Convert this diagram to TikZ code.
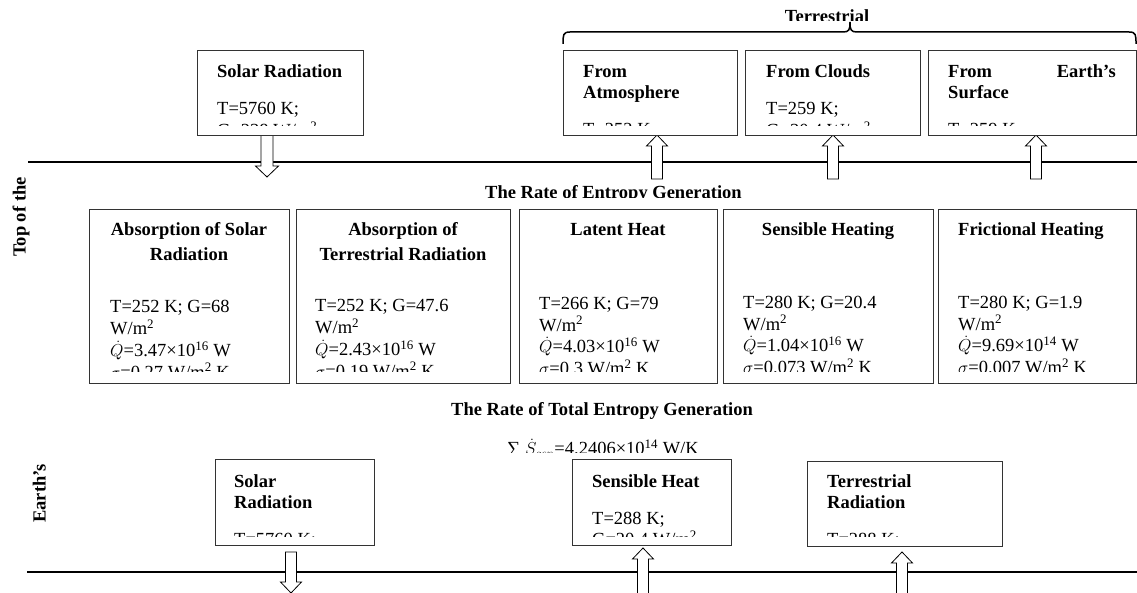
\documentclass[tikz,border=0pt]{standalone}
\usepackage{fontspec}
\setmainfont{Liberation Serif}
\newcommand\fsz{\fontsize{18.5}{21}\selectfont}
\tikzset{
 bx/.style={draw=black!80, line width=0.9pt, fill=white, inner sep=0pt, outer sep=0pt, anchor=north west},
 ttl/.style={font=\fsz\bfseries, inner sep=0pt, anchor=base west},
 ttlc/.style={font=\fsz\bfseries, inner sep=0pt, anchor=base},
 txt/.style={font=\fsz, inner sep=0pt, anchor=base west},
 blk/.style={draw=black, line width=0.8pt, fill=white, line join=miter},
 hline/.style={line width=2pt},
 brc/.style={line width=1.5pt},
}
\newcommand\mkbox[5]{\node[bx, minimum width={(#4-#2)*1pt}, minimum height={(#5-#3)*1pt}] (#1) at (#2,#3) {};}
\newcommand\dnarr[5]{\draw[blk] (#1-#4,#2) -- (#1+#4,#2) -- (#1+#4,#3-11) -- (#1+#5,#3-11) -- (#1,#3) -- (#1-#5,#3-11) -- (#1-#4,#3-11) -- cycle;}
\newcommand\uparr[5]{\draw[blk] (#1-#4,#3) -- (#1-#4,#2+11) -- (#1-#5,#2+11) -- (#1,#2) -- (#1+#5,#2+11) -- (#1+#4,#2+11) -- (#1+#4,#3) -- cycle;}
\begin{document}
\begin{tikzpicture}[x=1pt,y=-1pt]
\useasboundingbox (0,0) rectangle (1137,593);
\clip (0,0) rectangle (1137,593);
% horizontal lines
\coordinate (tl) at (28,162); \coordinate (tr) at (1137,162);
\coordinate (bl) at (27,572); \coordinate (br) at (1137,572);
\draw[hline] (tl) -- (tr);
\draw[hline] (bl) -- (br);
% block arrows
\dnarr{267}{135}{177}{6}{11.5}
\uparr{657}{135}{179}{5.5}{10.5}
\uparr{833}{135}{179}{5.5}{10.5}
\uparr{1036}{135}{179}{5.5}{10.5}
\dnarr{291}{552}{593}{5.5}{10.5}
\uparr{643}{548}{600}{5.5}{10.5}
\uparr{902}{552}{600}{5.5}{10.5}
% ---------- top row ----------
\mkbox{solar}{197}{50}{363}{135}
\begin{scope}\clip (197,50) rectangle (363,126);
\node[ttl] (solarA) at (217,78) {Solar Radiation};
\node[txt] (solarB) at (217,115) {T=5760 K;};
\node[txt] (solarC) at (217,136.5) {G=238 W/m\textsuperscript{2}};
\end{scope}
\mkbox{atm}{563}{50}{737}{135}
\begin{scope}\clip (563,50) rectangle (737,126);
\node[ttl] (atmA) at (583,78) {From};
\node[ttl] (atmB) at (583,99) {Atmosphere};
\node[txt] (atmC) at (583,136) {T=252 K;};
\end{scope}
\mkbox{cld}{745}{50}{920}{135}
\begin{scope}\clip (745,50) rectangle (920,126);
\node[ttl] (cldA) at (766,78) {From Clouds};
\node[txt] (cldB) at (766,115) {T=259 K;};
\node[txt] (cldC) at (766,136.5) {G=30.4 W/m\textsuperscript{2}};
\end{scope}
\mkbox{srf}{928}{50}{1136}{135}
\begin{scope}\clip (928,50) rectangle (1136,126);
\node[ttl] (srfA) at (948,78) {From};
\node[ttl, anchor=base east] (srfB) at (1116,78) {Earth’s};
\node[ttl] (srfC) at (948,99) {Surface};
\node[txt] (srfD) at (948,136) {T=259 K;};
\end{scope}
% brace and its title
\draw[brc] (563,44) .. controls (563,35) and (563,32) .. (570,32) -- (843,32) .. controls (849,32) and (850,30) .. (850,22);
\draw[brc] (850,22) .. controls (850,30) and (851,32) .. (857,32) -- (1129,32) .. controls (1136,32) and (1136,35) .. (1136,44);
\begin{scope}\clip (700,0) rectangle (960,20.5);
\node[ttlc] (terrT) at (827,22.5) {Terrestrial};
\end{scope}
% rotated side labels
\node[ttl, rotate=90] (toplbl) at (25.5,257) {Top of the};
\node[ttl, rotate=90] (earthlbl) at (45.5,523) {Earth’s};
% middle heading
\begin{scope}\clip (400,150) rectangle (800,197.5);
\node[ttl] (rate1) at (485,198.5) {The Rate of Entropy Generation};
\end{scope}
% ---------- middle row ----------
\mkbox{m1}{89}{209}{289}{383}
\begin{scope}\clip (89,209) rectangle (289,371);
\node[ttlc] (m1a) at (189,236) {Absorption of Solar};
\node[ttlc] (m1b) at (189,261) {Radiation};
\node[txt] (m1c) at (110,313) {T=252 K; G=68};
\node[txt] (m1d) at (110,334.7) {W/m\textsuperscript{2}};
\node[txt] (m1e) at (110,356.4) {$\dot{Q}$=3.47×10\textsuperscript{16} W};
\node[txt] (m1f) at (110,378.1) {$\sigma$=0.27 W/m\textsuperscript{2} K};
\end{scope}
\mkbox{m2}{296}{209}{510}{383}
\begin{scope}\clip (296,209) rectangle (510,371);
\node[ttlc] (m2a) at (403,236) {Absorption of};
\node[ttlc] (m2b) at (403,261) {Terrestrial Radiation};
\node[txt] (m2c) at (315,312) {T=252 K; G=47.6};
\node[txt] (m2d) at (315,333.7) {W/m\textsuperscript{2}};
\node[txt] (m2e) at (315,355.4) {$\dot{Q}$=2.43×10\textsuperscript{16} W};
\node[txt] (m2f) at (315,377.1) {$\sigma$=0.19 W/m\textsuperscript{2} K};
\end{scope}
\mkbox{m3}{519}{209}{717}{383}
\begin{scope}\clip (519,209) rectangle (717,371);
\node[ttlc] (m3a) at (618,236) {Latent Heat};
\node[txt] (m3c) at (539,309.5) {T=266 K; G=79};
\node[txt] (m3d) at (539,331.2) {W/m\textsuperscript{2}};
\node[txt] (m3e) at (539,352.9) {$\dot{Q}$=4.03×10\textsuperscript{16} W};
\node[txt] (m3f) at (539,374.6) {$\sigma$=0.3 W/m\textsuperscript{2} K};
\end{scope}
\mkbox{m4}{723}{209}{933}{383}
\begin{scope}\clip (723,209) rectangle (933,371);
\node[ttlc] (m4a) at (828,236) {Sensible Heating};
\node[txt] (m4c) at (743,308.5) {T=280 K; G=20.4};
\node[txt] (m4d) at (743,330.2) {W/m\textsuperscript{2}};
\node[txt] (m4e) at (743,351.9) {$\dot{Q}$=1.04×10\textsuperscript{16} W};
\node[txt] (m4f) at (743,373.6) {$\sigma$=0.073 W/m\textsuperscript{2} K};
\end{scope}
\mkbox{m5}{938}{209}{1136}{383}
\begin{scope}\clip (938,209) rectangle (1136,371);
\node[ttl] (m5a) at (958,236) {Frictional Heating};
\node[txt] (m5c) at (958,308.5) {T=280 K; G=1.9};
\node[txt] (m5d) at (958,330.2) {W/m\textsuperscript{2}};
\node[txt] (m5e) at (958,351.9) {$\dot{Q}$=9.69×10\textsuperscript{14} W};
\node[txt] (m5f) at (958,373.6) {$\sigma$=0.007 W/m\textsuperscript{2} K};
\end{scope}
% total entropy
\node[ttl] (rate2) at (451,415) {The Rate of Total Entropy Generation};
\begin{scope}\clip (450,420) rectangle (760,452);
\node[txt] (sumS) at (507,454.5) {∑ $\dot{S}_{gen}$=4.2406×10\textsuperscript{14} W/K};
\end{scope}
% ---------- bottom row ----------
\mkbox{bs}{215}{459}{374}{545}
\begin{scope}\clip (215,459) rectangle (374,536);
\node[ttl] (bsA) at (234,487) {Solar};
\node[ttl] (bsB) at (234,508) {Radiation};
\node[txt] (bsC) at (234,545) {T=5760 K;};
\end{scope}
\mkbox{sh}{572}{459}{731}{545}
\begin{scope}\clip (572,459) rectangle (731,536);
\node[ttl] (shA) at (592,487) {Sensible Heat};
\node[txt] (shB) at (592,524) {T=288 K;};
\node[txt] (shC) at (592,545.5) {G=20.4 W/m\textsuperscript{2}};
\end{scope}
\mkbox{tr}{807}{461}{1002}{546}
\begin{scope}\clip (807,461) rectangle (1002,536);
\node[ttl] (trA) at (827,487) {Terrestrial};
\node[ttl] (trB) at (827,508) {Radiation};
\node[txt] (trC) at (827,545) {T=288 K;};
\end{scope}
\end{tikzpicture}
\end{document}
